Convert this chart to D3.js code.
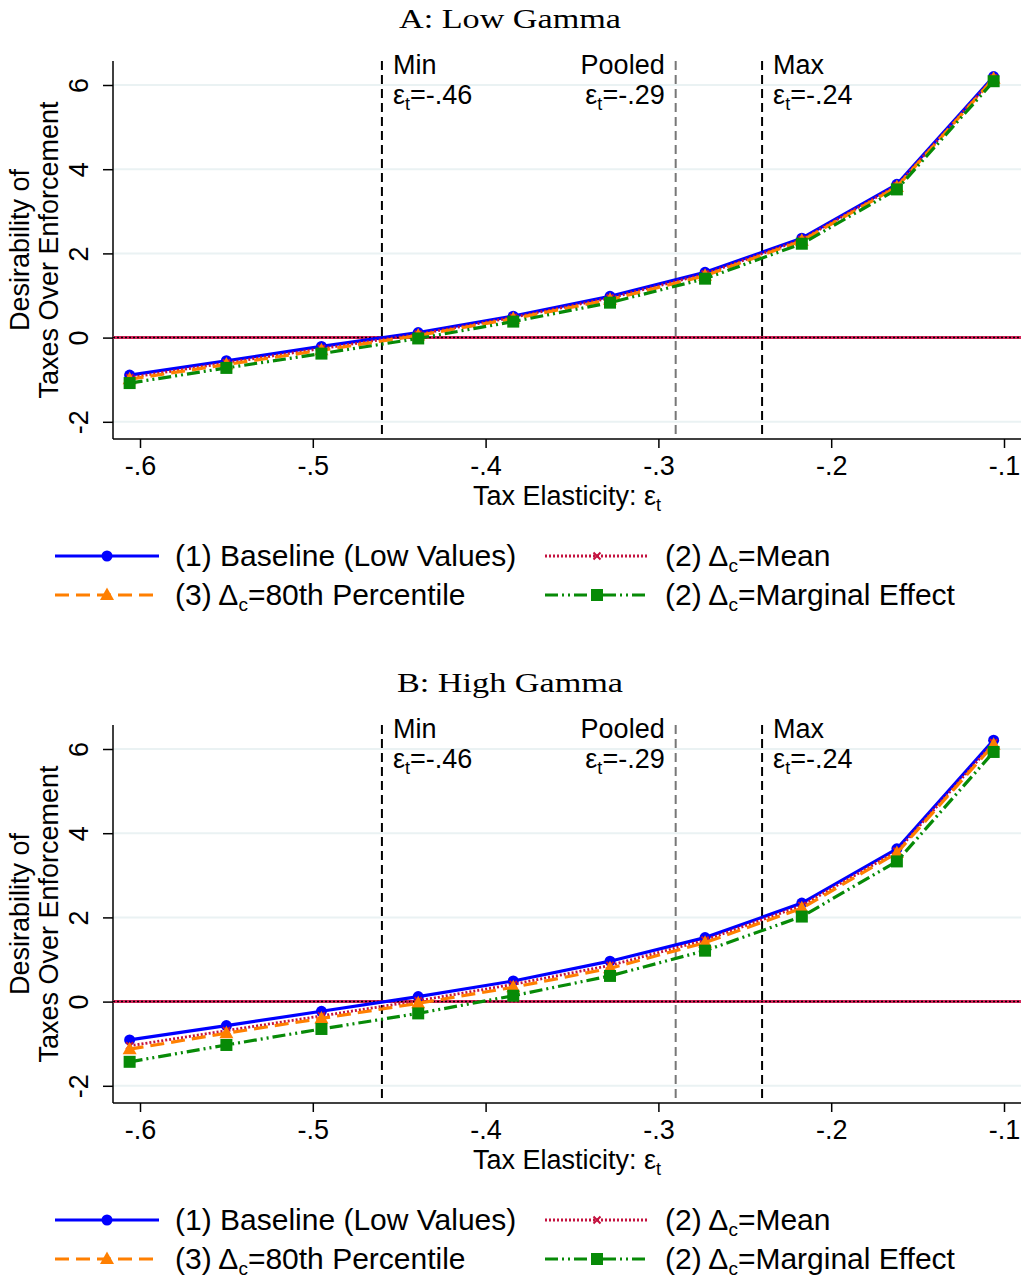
<!DOCTYPE html>
<html>
<head>
<meta charset="utf-8">
<script src="https://cdnjs.cloudflare.com/ajax/libs/d3/7.8.5/d3.min.js"></script>
<style>
	body { margin: 0; background: #fff; }
	svg { display: block; font-family: "Liberation Sans", Arial, sans-serif; }
</style>
</head>
<body>
<svg width="1021" height="1279"></svg>
<script>
// data..........................................................................

var elasticity = [-0.606, -0.550, -0.495, -0.439, -0.384, -0.328, -0.273, -0.217, -0.162, -0.106];

var lowBaseline = [-0.89, -0.55, -0.21, 0.12, 0.51, 0.98, 1.55, 2.36, 3.64, 6.20],
	lowMean     = [-0.95, -0.60, -0.26, 0.08, 0.48, 0.94, 1.51, 2.33, 3.61, 6.17],
	low80th     = [-0.99, -0.64, -0.30, 0.05, 0.45, 0.90, 1.47, 2.30, 3.58, 6.15],
	lowMarginal = [-1.08, -0.72, -0.38, -0.02, 0.38, 0.83, 1.40, 2.23, 3.52, 6.09];

var highBaseline = [-0.91, -0.57, -0.23, 0.12, 0.49, 0.96, 1.52, 2.34, 3.63, 6.21],
	highMean     = [-1.05, -0.69, -0.34, 0.02, 0.41, 0.86, 1.46, 2.28, 3.57, 6.15],
	high80th     = [-1.13, -0.75, -0.40, -0.04, 0.34, 0.79, 1.40, 2.22, 3.53, 6.10],
	highMarginal = [-1.43, -1.03, -0.65, -0.28, 0.14, 0.61, 1.21, 2.02, 3.33, 5.93];

var xTicks = [-0.6, -0.5, -0.4, -0.3, -0.2, -0.1],
	yTicks = [-2, 0, 2, 4, 6];

var cutoffNames  = ["Min", "Pooled", "Max"],
	cutoffValues = [-0.46, -0.29, -0.24],
	cutoffLabels = ["-.46", "-.29", "-.24"];

var panelTitles = ["A: Low Gamma", "B: High Gamma"];

// series look, in legend order
var series = [
	{name: [["(1) Baseline (Low Values)"]], color: "#0000ff", dash: null, width: 3.2, marker: "circle"},
	{name: [["(2) Δ"], ["c", 1], ["=Mean"]], color: "#c4123f", dash: "2,2", width: 2.8, marker: "x"},
	{name: [["(3) Δ"], ["c", 1], ["=80th Percentile"]], color: "#ff7f00", dash: "14,7", width: 3.2, marker: "triangle"},
	{name: [["(2) Δ"], ["c", 1], ["=Marginal Effect"]], color: "#078a07", dash: "13,4,2,4,2,4", width: 3.2, marker: "square"}
];

// layout......................................................................

var svg = d3.select("svg"),
	panelOffset = 664,
	plot = {left: 113, right: 1021, top: 61, bottom: 439},

	x = d3.scaleLinear().domain([-0.6, -0.1]).range([140, 1004]),
	y = d3.scaleLinear().domain([-2, 6]).range([421.8, 85]),

	line = d3.line()
		.x(function(d) { return x(d[0]); })
		.y(function(d) { return y(d[1]); });

drawPanel(0, panelTitles[0], [lowBaseline, lowMean, low80th, lowMarginal]);
drawPanel(1, panelTitles[1], [highBaseline, highMean, high80th, highMarginal]);

// draw functions..............................................................

function drawPanel(index, title, values){
	var g = svg.append("g")
		.attr("transform", "translate(0," + index * panelOffset + ")");

	// title
	g.append("text")
		.attr("x", 510)
		.attr("y", 28)
		.attr("text-anchor", "middle")
		.attr("textLength", index ? 226 : 222)
		.attr("lengthAdjust", "spacingAndGlyphs")
		.style("font-family", "'Liberation Serif', 'Times New Roman', serif")
		.style("font-size", "27px")
		.text(title);

	// grid
	g.append("g").selectAll("line")
		.data(yTicks)
		.enter().append("line")
			.attr("x1", plot.left)
			.attr("x2", plot.right)
			.attr("y1", function(d) { return y(d); })
			.attr("y2", function(d) { return y(d); })
			.style("stroke", "#eaf2f3")
			.style("stroke-width", 2);

	// axes
	var xAxis = g.append("g")
		.attr("transform", "translate(0," + plot.bottom + ")")
		.call(d3.axisBottom(x)
			.tickValues(xTicks)
			.tickSize(9)
			.tickPadding(8)
			.tickFormat(function(d) { return String(d).replace("0.", "."); }));
	xAxis.select(".domain").remove();
	xAxis.selectAll("line").style("stroke-width", 1.5);
	xAxis.selectAll("text")
		.style("font-size", "27px")
		.style("font-family", null);

	var yAxis = g.append("g")
		.attr("transform", "translate(" + plot.left + ",0)")
		.call(d3.axisLeft(y)
			.tickValues(yTicks)
			.tickSize(10)
			.tickFormat(function(d) { return String(d); }));
	yAxis.select(".domain").remove();
	yAxis.selectAll("line").style("stroke-width", 1.5);
	yAxis.selectAll("text")
		.attr("x", 0)
		.attr("dy", null)
		.attr("text-anchor", "middle")
		.attr("transform", "translate(-25,0) rotate(-90)")
		.style("font-size", "27px")
		.style("font-family", null);

	g.append("line")
		.attr("x1", plot.left).attr("x2", plot.right)
		.attr("y1", plot.bottom).attr("y2", plot.bottom)
		.style("stroke", "#000").style("stroke-width", 1.5);
	g.append("line")
		.attr("x1", plot.left).attr("x2", plot.left)
		.attr("y1", plot.top).attr("y2", plot.bottom)
		.style("stroke", "#000").style("stroke-width", 1.5);

	// axis titles
	var yTitle = g.append("text")
		.attr("transform", "translate(0," + (plot.top + plot.bottom) / 2 + ") rotate(-90)")
		.attr("text-anchor", "middle")
		.style("font-size", "27px");
	yTitle.append("tspan").attr("x", 0).attr("y", 29).text("Desirability of");
	yTitle.append("tspan").attr("x", 0).attr("y", 58).text("Taxes Over Enforcement");

	var xTitle = g.append("text")
		.attr("x", (plot.left + plot.right) / 2)
		.attr("y", 505)
		.attr("text-anchor", "middle")
		.style("font-size", "27px");
	xTitle.append("tspan").text("Tax Elasticity: ε");
	xTitle.append("tspan").attr("dy", 6).style("font-size", "18px").text("t");

	// zero line
	g.append("line")
		.attr("x1", plot.left).attr("x2", plot.right)
		.attr("y1", y(0)).attr("y2", y(0))
		.style("stroke", "#d4245a").style("stroke-width", 3);
	g.append("line")
		.attr("x1", plot.left).attr("x2", plot.right)
		.attr("y1", y(0)).attr("y2", y(0))
		.style("stroke", "#000").style("stroke-width", 1.5)
		.style("stroke-dasharray", "2,2");

	// elasticity cutoffs
	cutoffValues.forEach(function(v, i){
		var cx = x(v), right = cutoffNames[i] == "Pooled",
			tx = right ? cx - 11 : cx + 11,
			anchor = right ? "end" : "start";

		g.append("line")
			.attr("x1", cx).attr("x2", cx)
			.attr("y1", plot.top).attr("y2", plot.bottom)
			.style("stroke", right ? "#777" : "#000")
			.style("stroke-width", 2)
			.style("stroke-dasharray", "9,5");

		g.append("text")
			.attr("x", tx).attr("y", 74)
			.attr("text-anchor", anchor)
			.style("font-size", "27px")
			.text(cutoffNames[i]);

		var t = g.append("text")
			.attr("x", tx).attr("y", 104)
			.attr("text-anchor", anchor)
			.style("font-size", "27px");
		t.append("tspan").text("ε");
		t.append("tspan").attr("dy", 6).style("font-size", "18px").text("t");
		t.append("tspan").attr("dy", -6).text("=" + cutoffLabels[i]);
	});

	// series
	series.forEach(function(s, i){
		var pts = elasticity.map(function(e, j) { return [e, values[i][j]]; });

		g.append("path")
			.datum(pts)
			.attr("d", line)
			.style("fill", "none")
			.style("stroke", s.color)
			.style("stroke-width", s.width)
			.style("stroke-dasharray", s.dash);

		g.append("g").selectAll("g")
			.data(pts)
			.enter().append("g")
				.attr("transform", function(d) { return "translate(" + x(d[0]) + "," + y(d[1]) + ")"; })
				.each(function() { drawMarker(d3.select(this), s); });
	});

	drawLegend(g);
}

function drawMarker(sel, s){
	if(s.marker == "circle")
		sel.append("circle").attr("r", 5.5).style("fill", s.color);
	else if(s.marker == "square")
		sel.append("rect").attr("x", -6).attr("y", -6)
			.attr("width", 12).attr("height", 12).style("fill", s.color);
	else if(s.marker == "triangle")
		sel.append("path").attr("d", "M0,-7.5L7,5L-7,5Z").style("fill", s.color);
	else
		sel.append("path").attr("d", "M-3.5,-3.5L3.5,3.5M-3.5,3.5L3.5,-3.5")
			.style("stroke", s.color).style("stroke-width", 2);
}

function drawLegend(g){
	var colX = [55, 545], rowY = [556, 595],
		legend = g.append("g");

	series.forEach(function(s, i){
		var lx = colX[i % 2 == 0 ? 0 : 1], ly = rowY[i == 0 || i == 1 ? 0 : 1],
			item = legend.append("g").attr("transform", "translate(" + lx + "," + ly + ")");

		item.append("line")
			.attr("x1", 0).attr("x2", 104)
			.style("stroke", s.color)
			.style("stroke-width", s.width)
			.style("stroke-dasharray", s.dash);
		drawMarker(item.append("g").attr("transform", "translate(52,0)"), s);

		var t = item.append("text")
			.attr("x", 120)
			.attr("y", 10)
			.style("font-size", "30px");
		s.name.forEach(function(part){
			var span = t.append("tspan").text(part[0]);
			if(part[1])
				span.attr("dy", 6).style("font-size", "19px");
			else if(t.selectAll("tspan").size() > 1)
				span.attr("dy", -6);
		});
	});
}
</script>
</body>
</html>
